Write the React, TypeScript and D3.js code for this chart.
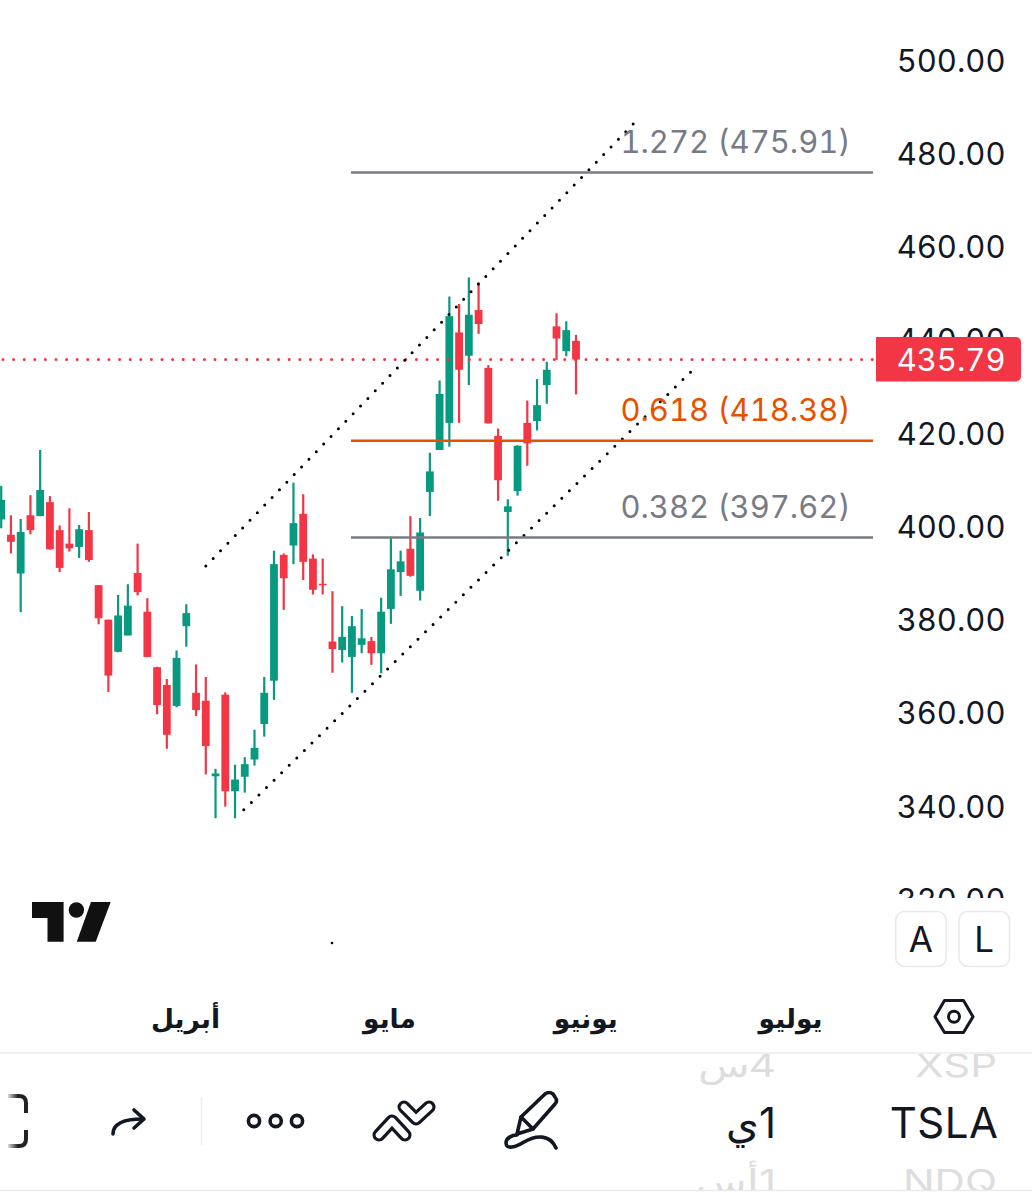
import React from "react";
import * as d3 from "d3";

const opens = [401.5,398.2,389.9,402.4,402.2,405.2,399.2,396.3,395.6,399.2,387.4,380.0,373.1,376.6,390.0,381.7,369.8,366.0,361.5,378.6,364.3,362.6,346.4,363.9,343.2,346.3,350.0,357.6,366.9,393.9,395.9,402.7,393.1,387.7,375.3,373.5,372.0,374.6,375.4,372.8,382.3,390.2,395.2,386.2,407.4,416.4,422.2,441.6,436.6,446.4,434.0,419.4,403.1,407.6,422.2,422.6,430.3,442.9,437.6,439.8];
const highs = [408.7,402.4,401.6,406.7,416.4,406.5,400.2,403.9,400.3,403.1,387.4,380.0,385.3,387.6,396.3,384.6,369.9,367.3,373.4,383.3,370.4,367.7,348.0,364.4,348.9,350.5,356.4,367.7,394.8,394.2,409.4,406.9,394.0,393.1,386.1,382.9,380.8,382.3,376.3,384.7,397.8,394.8,402.2,401.8,415.8,431.3,449.3,447.7,453.4,452.3,434.6,421.0,405.8,417.4,427.0,431.6,435.3,445.7,444.0,441.1];
const lows = [399.6,394.2,381.6,398.3,402.2,395.0,390.2,394.6,393.2,392.4,379.0,364.5,373.0,376.6,385.2,372.0,359.7,352.3,361.2,374.2,359.3,346.8,337.4,339.9,337.4,342.9,348.7,354.9,362.8,382.1,391.9,388.5,385.4,385.4,368.6,370.8,364.3,372.8,370.3,368.5,379.1,385.1,389.2,384.1,402.2,416.4,417.1,422.2,430.3,441.3,422.1,405.5,393.7,406.6,413.0,420.6,426.3,435.7,436.5,428.3];
const closes = [405.7,396.7,398.8,399.2,407.8,395.1,391.1,395.3,399.4,392.8,380.3,368.0,380.9,383.0,385.9,372.0,361.7,355.3,371.8,381.4,360.6,352.9,347.0,343.2,345.7,349.0,352.5,364.3,391.9,388.9,400.7,392.4,386.4,387.4,373.7,376.3,378.6,376.0,372.8,381.7,390.8,392.5,389.4,398.7,411.8,428.4,445.1,433.6,445.4,443.4,422.1,409.9,404.3,417.3,417.8,426.0,433.6,440.3,442.1,435.79];

const axisTicks = [500,480,460,440,420,400,380,360,340,320];
const lastPrice = 435.79;

const fibRatios = ["1.272","0.618","0.382"];
const fibPrices = [475.91,418.38,397.62];
const fibColors = ["#787B86","#E65100","#787B86"];

const channelUpper: [number, number][] = [[21,391.5],[65.05,486.7]];
const channelLower: [number, number][] = [[24.9,339.2],[71.3,434.2]];

const months = ["أبريل","مايو","يونيو","يوليو"];
const monthIndex = [18.92,39.86,60,81.02];

const GREEN = "#089981";
const RED = "#F23645";
const INK = "#131722";
const SANS = "Inter, Roboto, 'Noto Sans', sans-serif";
const ARABIC = "'DejaVu Sans', 'Noto Sans', sans-serif";
const TNUM = { fontFeatureSettings: "'tnum'" };

const y = d3.scaleLinear().domain([397.62,475.91]).range([537.5,172.5]);
const x = d3.scaleLinear().domain([0,59]).range([1.2,576]);
const line = d3.line<[number,number]>().x(d=>x(d[0])).y(d=>y(d[1]));

const faded = (t: string, px: number, base: number, rtl: boolean) => (
  <text key={t} transform={`translate(${px} ${base}) scale(1 0.78)`} textAnchor={rtl ? undefined : "end"} direction={rtl ? "rtl" : undefined} fontFamily={SANS} fontSize={42} fill="#DDDDDD">{t}</text>
);

export default function App(){
  const idx = d3.range(opens.length);
  return (
    <svg width={1032} height={1200} viewBox="0 0 1032 1200" style={{position:"absolute",left:0,top:0,background:"#fff"}}>
      <defs>
        <clipPath id="axisClip"><rect x={880} y={0} width={152} height={898}/></clipPath>
        <clipPath id="pickerClip"><rect x={600} y={1054} width={432} height={136}/></clipPath>
        <linearGradient id="fade" x1="0" x2="1" y1="0" y2="0"><stop offset="0" stopColor="#fff" stopOpacity="1"/><stop offset="1" stopColor="#fff" stopOpacity="0"/></linearGradient>
      </defs>

      {/* candles */}
      {idx.map(i=>{
        const up = closes[i]>=opens[i];
        const c = up?GREEN:RED;
        const top = y(Math.max(opens[i],closes[i]));
        const bot = y(Math.min(opens[i],closes[i]));
        return <g key={i} fill={c}>
          <rect x={x(i)-1.1} y={y(highs[i])} width={2.2} height={y(lows[i])-y(highs[i])}/>
          <rect x={x(i)-3.9} y={top} width={7.8} height={Math.max(1.5,bot-top)}/>
        </g>;
      })}

      {/* price line */}
      <line x1={3} x2={875} y1={y(lastPrice)} y2={y(lastPrice)} stroke={RED} strokeWidth={3} strokeDasharray="0 10.6" strokeLinecap="round"/>

      {/* channel */}
      {[channelUpper,channelLower].map((p,i)=>
        <path key={i} d={line(p)!} fill="none" stroke="#000" strokeWidth={3} strokeDasharray="0 10.6" strokeLinecap="round"/>
      )}
      <circle cx={332} cy={943} r={1.3} fill="#000"/>

      {/* fib levels */}
      {fibPrices.map((p,i)=><g key={i}>
        <line x1={351} x2={873} y1={y(p)} y2={y(p)} stroke={fibColors[i]} strokeWidth={2.5}/>
        <text x={850.5} y={y(p)-19.5} textAnchor="end" fontFamily={SANS} fontSize={31} style={TNUM} fill={fibColors[i]}>{`${fibRatios[i]} (${p.toFixed(2)})`}</text>
      </g>)}

      {/* axis */}
      <g clipPath="url(#axisClip)">
        {axisTicks.map(t=><text key={t} x={1005.5} y={y(t)+11.5} textAnchor="end" fontFamily={SANS} fontSize={31} style={TNUM} fill={INK}>{t.toFixed(2)}</text>)}
      </g>
      <path d={`M876 ${337}H1016a5 5 0 0 1 5 5V${376.5}a5 5 0 0 1 -5 5H876Z`} fill={RED}/>
      <text x={1005.5} y={y(lastPrice)+11.5} textAnchor="end" fontFamily={SANS} fontSize={31} style={TNUM} fill="#fff">{lastPrice.toFixed(2)}</text>

      {/* logo */}
      <g fill="#111">
        <path d="M32 902H63.6V941.7H47.5V918H32Z"/>
        <circle cx={76.4} cy={910} r={7.7}/>
        <path d="M91 902H110.7L95.7 941.7H76.8Z"/>
      </g>

      {/* A / L */}
      {[["A",895.7],["L",959]].map(([t,px])=><g key={t as string}>
        <rect x={px as number} y={911.5} width={50.5} height={55} rx={9} fill="#fff" stroke="#E9E9EB" strokeWidth={1.6}/>
        <text x={(px as number)+25.2} y={952} textAnchor="middle" fontFamily={SANS} fontSize={35} fill={INK}>{t}</text>
      </g>)}

      {/* months */}
      {months.map((m,i)=><text key={m} x={x(monthIndex[i])} y={1028} textAnchor="middle" fontFamily={ARABIC} fontWeight={700} fontSize={26.5} fill={INK}>{m}</text>)}

      {/* settings hexagon */}
      <g fill="none" stroke="#131722" strokeWidth={3}>
        <path d="M935 1016.7L944.5 1000.5H963.5L973 1016.7L963.5 1032.5H944.5Z" strokeLinejoin="round"/>
        <circle cx={954} cy={1016.7} r={5.5}/>
      </g>

      {/* toolbar separators */}
      <line x1={0} x2={1032} y1={1053} y2={1053} stroke="#EBEBEB" strokeWidth={1.5}/>
      <line x1={0} x2={1032} y1={1190.5} y2={1190.5} stroke="#EBEBEB" strokeWidth={1.5}/>
      <line x1={201.5} x2={201.5} y1={1097} y2={1145} stroke="#EFEFEF" strokeWidth={1.5}/>

      {/* bracket */}
      <g fill="none" stroke="#222" strokeWidth={4}>
        <path d="M8 1096H19Q26 1096 26 1103V1113"/>
        <path d="M26 1130V1139Q26 1146 19 1146H8"/>
      </g>
      <rect x={6} y={1092} width={12} height={58} fill="url(#fade)"/>

      {/* redo arrow */}
      <g fill="none" stroke="#131722" strokeWidth={3.6} strokeLinecap="round" strokeLinejoin="round">
        <path d="M113 1134C113 1124 122 1119 143 1119"/>
        <path d="M134 1110L144 1119L134 1128"/>
      </g>

      {/* dots */}
      {[254,275.7,297].map(cx=><circle key={cx} cx={cx} cy={1121} r={5.6} fill="none" stroke="#131722" strokeWidth={3.6}/>)}

      {/* chevrons */}
      <g fill="none" strokeLinecap="round" strokeLinejoin="round">
        {["M379 1135L392 1121L405 1135","M404 1107L416 1119L429 1107"].map(d=><g key={d}>
          <path d={d} stroke="#131722" strokeWidth={13}/>
          <path d={d} stroke="#fff" strokeWidth={6.5}/>
        </g>)}
      </g>

      {/* pen */}
      <g fill="none" stroke="#131722" strokeWidth={3.6} strokeLinecap="round" strokeLinejoin="round">
        <path d="M517 1134L521 1117L545 1094Q549 1091 553 1094L555 1097Q558 1101 555 1104L533 1129Z"/>
        <path d="M521 1117L533 1129"/>
        <path d="M556 1148C550 1134 536 1135 524 1142C516 1147 506 1150 506 1143C506 1138 512 1135 517 1135"/>
      </g>

      {/* picker */}
      <g clipPath="url(#pickerClip)">
        {faded("XSP",997,1077,false)}
        {faded("NDQ",997,1193,false)}
        {faded("4س",776,1077,true)}
        {faded("1أس",776,1193,true)}
      </g>
      <text x={998.5} y={1138} textAnchor="end" fontFamily={SANS} fontSize={42} letterSpacing={0.5} fill="#131722">TSLA</text>
      <text x={776} y={1138} direction="rtl" fontFamily={SANS} fontSize={42} fill="#131722">1ي</text>
    </svg>
  );
}
